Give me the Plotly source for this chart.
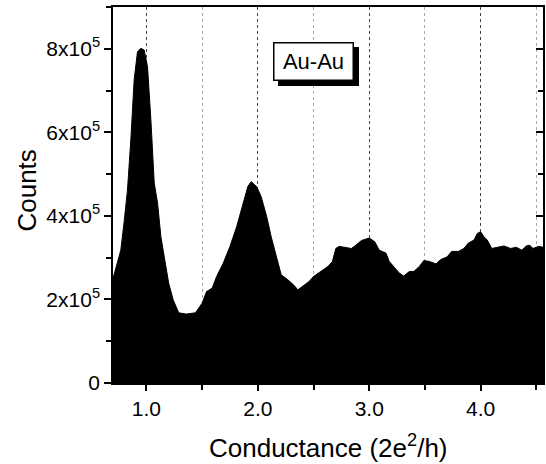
import plotly.graph_objects as go

# Conductance (units of 2e^2/h)
conductance = [0.70, 0.74, 0.77, 0.80, 0.83, 0.86, 0.89, 0.92, 0.95, 0.98,
               1.01, 1.04, 1.07, 1.10, 1.13, 1.16, 1.20, 1.24, 1.29, 1.36,
               1.44, 1.50, 1.54, 1.59, 1.63, 1.69, 1.75, 1.81, 1.87, 1.91,
               1.94, 1.99, 2.03, 2.08, 2.12, 2.17, 2.21, 2.27, 2.32, 2.36,
               2.40, 2.46, 2.50, 2.57, 2.63, 2.67, 2.70, 2.73, 2.79, 2.84,
               2.88, 2.93, 3.00, 3.05, 3.09, 3.15, 3.18, 3.22, 3.27, 3.31,
               3.36, 3.40, 3.45, 3.49, 3.54, 3.60, 3.64, 3.70, 3.74, 3.80,
               3.85, 3.89, 3.94, 3.97, 4.00, 4.03, 4.06, 4.10, 4.15, 4.21,
               4.27, 4.32, 4.37, 4.41, 4.44, 4.47, 4.52, 4.56]

# Counts in thousands
counts_k = [250, 287, 318, 386, 462, 582, 726, 793, 801, 797,
            757, 630, 479, 431, 350, 302, 239, 199, 168, 165,
            168, 191, 219, 227, 255, 287, 327, 374, 434, 470,
            482, 470, 446, 398, 350, 302, 259, 247, 235, 223,
            231, 243, 255, 267, 279, 291, 322, 327, 325, 322,
            330, 341, 347, 338, 318, 311, 291, 279, 263, 256,
            267, 267, 279, 293, 291, 285, 295, 302, 315, 315,
            322, 335, 342, 358, 362, 350, 342, 322, 325, 328,
            322, 325, 318, 328, 330, 322, 327, 325]
counts = [c * 1000 for c in counts_k]

x_tick_vals = [1, 2, 3, 4]
x_tick_text = ["1.0", "2.0", "3.0", "4.0"]
x_minor_vals = [1.5, 2.5, 3.5, 4.5]
y_tick_vals = [0, 2e5, 4e5, 6e5, 8e5]
y_tick_text = ["0", "2x10<sup>5</sup>", "4x10<sup>5</sup>", "6x10<sup>5</sup>", "8x10<sup>5</sup>"]

FONT = "Liberation Sans, Arial, Helvetica, sans-serif"

fig = go.Figure()
fig.add_trace(go.Scatter(
    x=conductance, y=counts, mode="lines", fill="tozeroy",
    line=dict(color="black", width=1), fillcolor="black",
    hoverinfo="skip", showlegend=False))
# invisible trace to carry the right-hand (inside-tick) axis
fig.add_trace(go.Scatter(
    x=conductance, y=counts, mode="lines", yaxis="y2",
    line=dict(color="rgba(0,0,0,0)", width=0),
    hoverinfo="skip", showlegend=False))

fig.update_layout(
    width=546, height=464,
    margin=dict(l=113, r=1, t=7, b=81),
    paper_bgcolor="white", plot_bgcolor="white",
    font=dict(family=FONT, color="black", size=21),
    xaxis=dict(
        range=[0.7, 4.56], tickvals=x_tick_vals, ticktext=x_tick_text,
        ticks="outside", ticklen=6, tickwidth=1.5, tickcolor="black",
        showline=True, linecolor="black", linewidth=1.5, mirror=True,
        showgrid=True, gridcolor="#444", gridwidth=1, griddash="dot",
        zeroline=False, tickfont=dict(size=21),
        minor=dict(tickvals=x_minor_vals, ticks="outside", ticklen=5,
                   tickwidth=1.5, tickcolor="black", showgrid=True,
                   gridcolor="#aaa", gridwidth=1, griddash="dot"),
    ),
    yaxis=dict(
        range=[0, 9e5], tickvals=y_tick_vals, ticktext=y_tick_text,
        ticks="outside", ticklen=7, tickwidth=1.5, tickcolor="black",
        showline=True, linecolor="black", linewidth=1.5, mirror=True,
        showgrid=False, zeroline=False, tickfont=dict(size=21),
        minor=dict(dtick=1e5, tick0=0, ticks="outside", ticklen=5,
                   tickwidth=1.5, tickcolor="black", showgrid=False),
    ),
    yaxis2=dict(
        range=[0, 9e5], overlaying="y", side="right",
        tickvals=y_tick_vals, showticklabels=False,
        ticks="inside", ticklen=7, tickwidth=1.5, tickcolor="black",
        showline=False, showgrid=False, zeroline=False,
        minor=dict(dtick=1e5, tick0=0, ticks="inside", ticklen=5,
                   tickwidth=1.5, tickcolor="black", showgrid=False),
    ),
)

# axis titles
fig.add_annotation(text="Counts", xref="paper", yref="paper",
                   x=-0.199, y=0.513, textangle=-90, showarrow=False,
                   xanchor="center", yanchor="middle",
                   font=dict(family=FONT, size=26, color="black"))
fig.add_annotation(text="Conductance (2e<sup>2</sup>/h)", xref="paper", yref="paper",
                   x=0.502, y=-0.168, showarrow=False,
                   xanchor="center", yanchor="middle",
                   font=dict(family=FONT, size=26, color="black"))

# Au-Au label with drop shadow (shadow box carries no text)
fig.add_annotation(text="&nbsp;", xref="x", yref="y", x=2.5, y=7.7e5,
                   showarrow=False, xanchor="center", yanchor="middle",
                   xshift=5, yshift=-5,
                   bgcolor="black", bordercolor="black", borderwidth=1.5,
                   borderpad=4, width=70, height=28,
                   font=dict(family=FONT, size=22, color="black"))
fig.add_annotation(text="Au-Au", xref="x", yref="y", x=2.5, y=7.7e5,
                   showarrow=False, xanchor="center", yanchor="middle",
                   bgcolor="white", bordercolor="black", borderwidth=1.5,
                   borderpad=4, width=70, height=28,
                   font=dict(family=FONT, size=22, color="black"))

fig.write_html("out.html")
